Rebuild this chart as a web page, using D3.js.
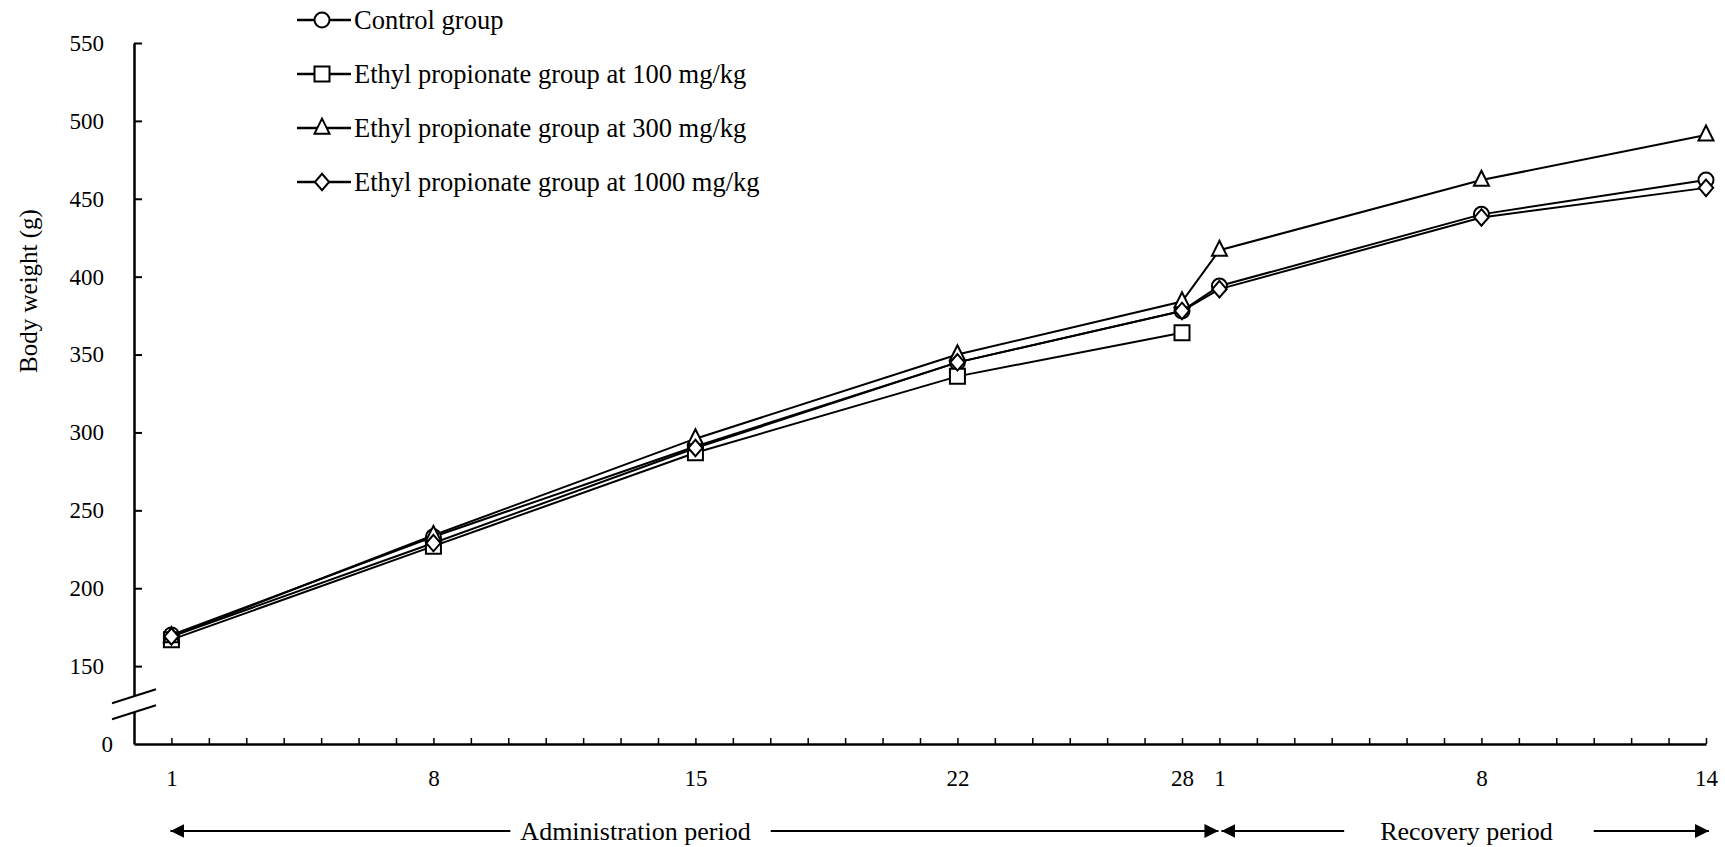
<!DOCTYPE html>
<html>
<head>
<meta charset="utf-8">
<script src="https://cdn.jsdelivr.net/npm/d3@7"></script>
<style>
  body { margin: 0; background: #fff; }
  text { font-family: "Liberation Serif", "Times New Roman", serif; fill: #000; }
</style>
</head>
<body>
<div id="chart"></div>
<script>
// days shown on the x axis
const adminDays = [1, 8, 15, 22, 28]
const recoveryDays = [1, 8, 14]

// body weight (g) per group, admin days then recovery days
const control = [170, 233, 291, 345, 378, 394, 440, 462]
const dose100 = [167, 227, 287, 336, 364]
const dose300 = [169, 234, 296, 350, 384, 417, 462, 491]
const dose1000 = [169, 229, 290, 345, 378, 392, 438, 457]

const seriesNames = ['Control group', 'Ethyl propionate group at 100 mg/kg', 'Ethyl propionate group at 300 mg/kg', 'Ethyl propionate group at 1000 mg/kg']
const yTicks = [100, 150, 200, 250, 300, 350, 400, 450, 500, 550]
const periods = ['Administration period', 'Recovery period']

const width = 1725, height = 847

// position on the axis: one step per day, recovery day 1 right after admin day 28
const adminIdx = adminDays.map(d => d - 1)
const recoveryIdx = recoveryDays.map(d => adminDays[adminDays.length - 1] - 1 + d)
const allIdx = adminIdx.concat(recoveryIdx)
const allLabels = adminDays.concat(recoveryDays)

// tall triangle and diamond like the original
const triangleTall = {
  draw(ctx, size) {
    const s = Math.sqrt(size) / 2
    ctx.moveTo(0, -s * 1.25)
    ctx.lineTo(s, s * 0.75)
    ctx.lineTo(-s, s * 0.75)
    ctx.closePath()
  }
}
const diamondTall = {
  draw(ctx, size) {
    const s = Math.sqrt(size) / 2
    ctx.moveTo(0, -s * 1.1)
    ctx.lineTo(s * 0.95, 0)
    ctx.lineTo(0, s * 1.1)
    ctx.lineTo(-s * 0.95, 0)
    ctx.closePath()
  }
}

const series = [
  { name: seriesNames[0], values: control, type: d3.symbolCircle, size: 177 },
  { name: seriesNames[1], values: dose100, type: d3.symbolSquare, size: 225 },
  { name: seriesNames[2], values: dose300, type: triangleTall, size: 225 },
  { name: seriesNames[3], values: dose1000, type: diamondTall, size: 225 }
]

const svg = d3.select('#chart')
  .append('svg')
  .attr('width', width)
  .attr('height', height)

const x = d3.scaleLinear().domain([-1, 41]).range([134, 1706])
// 0 is drawn where 100 would sit (broken axis)
const y = d3.scaleLinear().domain([100, 550]).range([744, 43])

function drawXAxis() {
  const labelOf = new Map(allIdx.map((k, i) => [k, allLabels[i]]))
  const xAxis = d3.axisBottom(x)
    .tickValues(d3.range(0, 42))
    .tickSizeInner(-6)
    .tickSizeOuter(0)
    .tickPadding(26)
    .tickFormat(d => labelOf.has(d) ? labelOf.get(d) : '')
  const g = svg.append('g')
    .attr('class', 'x-axis')
    .attr('transform', `translate(0, ${y(100)})`)
    .call(xAxis)
  g.select('.domain').attr('stroke', '#000').attr('stroke-width', 2.5)
  g.selectAll('.tick line').attr('stroke', '#000').attr('stroke-width', 1.5)
  g.selectAll('.tick text').attr('font-size', 23).attr('font-family', null)
}

function drawYAxis() {
  const yAxis = d3.axisLeft(y)
    .tickValues(yTicks)
    .tickSizeInner(-8)
    .tickSizeOuter(0)
    .tickPadding(30)
    .tickFormat(d => d === 100 ? '0' : d)
  const g = svg.append('g')
    .attr('class', 'y-axis')
    .attr('transform', `translate(${x(-1)}, 0)`)
    .call(yAxis)
  g.select('.domain').attr('stroke', '#000').attr('stroke-width', 2.5)
  g.selectAll('.tick line').attr('stroke', '#000').attr('stroke-width', 2)
    .filter(d => d === 100).remove()
  g.selectAll('.tick text').attr('font-size', 23).attr('font-family', null)
    .filter(d => d === 100).attr('x', -21)

  // break marks
  const by = y(125.5), bx = x(-1)
  const slash = (dy) => [[bx - 22, by + dy + 7], [bx + 22, by + dy - 7]]
  svg.append('path')
    .attr('d', d3.line()(slash(-8).concat(slash(8).reverse())))
    .attr('fill', '#fff')
  ;[-8, 8].forEach(dy => {
    svg.append('path')
      .attr('d', d3.line()(slash(dy)))
      .attr('stroke', '#000')
      .attr('stroke-width', 2)
  })

  svg.append('text')
    .attr('transform', `translate(28, 291) rotate(-90)`)
    .attr('text-anchor', 'middle')
    .attr('dominant-baseline', 'central')
    .attr('font-size', 25)
    .text('Body weight (g)')
}

function drawSeries() {
  const line = d3.line()
    .x(d => x(d.i))
    .y(d => y(d.v))
  series.forEach(s => {
    const pts = s.values.map((v, k) => ({ i: allIdx[k], v }))
    svg.append('path')
      .attr('d', line(pts))
      .attr('fill', 'none')
      .attr('stroke', '#000')
      .attr('stroke-width', 2)
    svg.append('g')
      .selectAll('path')
      .data(pts)
      .enter()
      .append('path')
      .attr('d', d3.symbol().type(s.type).size(s.size))
      .attr('transform', d => `translate(${x(d.i)}, ${y(d.v)})`)
      .attr('fill', '#fff')
      .attr('stroke', '#000')
      .attr('stroke-width', 2)
  })
}

function drawLegend() {
  const g = svg.append('g').attr('class', 'legend')
  series.forEach((s, i) => {
    const cy = 20 + i * 54
    g.append('line')
      .attr('x1', 297).attr('x2', 351)
      .attr('y1', cy).attr('y2', cy)
      .attr('stroke', '#000')
      .attr('stroke-width', 2.5)
    g.append('path')
      .attr('d', d3.symbol().type(s.type).size(s.size))
      .attr('transform', `translate(322, ${cy})`)
      .attr('fill', '#fff')
      .attr('stroke', '#000')
      .attr('stroke-width', 2)
    g.append('text')
      .attr('x', 354)
      .attr('y', cy)
      .attr('dy', '0.35em')
      .attr('font-size', 26.5)
      .text(s.name)
  })
}

function drawPeriods() {
  const defs = svg.append('defs')
  defs.append('marker')
    .attr('id', 'head')
    .attr('viewBox', '0 0 14 14')
    .attr('refX', 14).attr('refY', 7)
    .attr('markerWidth', 14).attr('markerHeight', 14)
    .attr('markerUnits', 'userSpaceOnUse')
    .attr('orient', 'auto')
    .append('path')
    .attr('d', 'M0,0L14,7L0,14Z')
    .attr('fill', '#000')

  const ay = 831
  const spans = [
    { from: x(0) - 1, to: x(28) - 1, at: x(12.4), gap: [10, 20] },
    { from: x(28) + 2, to: x(41) + 3, at: x(34.6), gap: [36, 41] }
  ]
  spans.forEach((p, i) => {
    const t = svg.append('text')
      .attr('x', p.at)
      .attr('y', ay)
      .attr('dy', '0.35em')
      .attr('text-anchor', 'middle')
      .attr('font-size', 26)
      .text(periods[i])
    const w = t.node().getComputedTextLength()
    svg.append('line')
      .attr('x1', p.at - w / 2 - p.gap[0]).attr('x2', p.from)
      .attr('y1', ay).attr('y2', ay)
      .attr('stroke', '#000').attr('stroke-width', 2)
      .attr('marker-end', 'url(#head)')
    svg.append('line')
      .attr('x1', p.at + w / 2 + p.gap[1]).attr('x2', p.to)
      .attr('y1', ay).attr('y2', ay)
      .attr('stroke', '#000').attr('stroke-width', 2)
      .attr('marker-end', 'url(#head)')
  })
}

drawXAxis()
drawYAxis()
drawSeries()
drawLegend()
drawPeriods()
</script>
</body>
</html>
